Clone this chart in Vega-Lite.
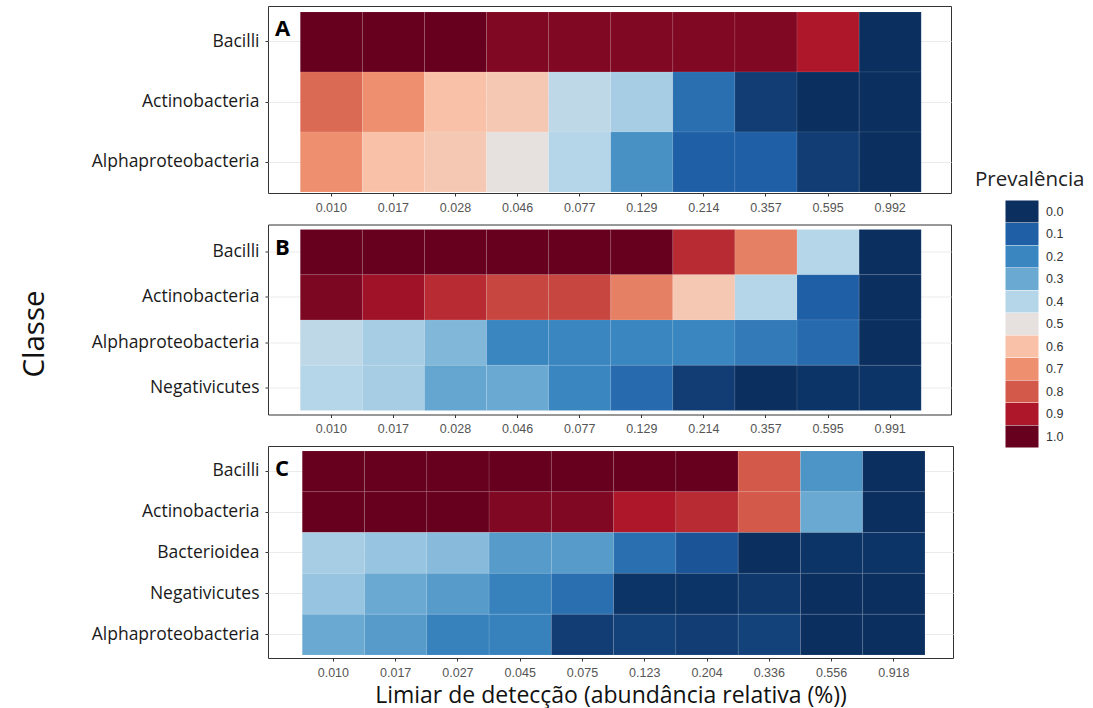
{
  "$schema": "https://vega.github.io/schema/vega-lite/v6.json",
  "background": "white",
  "padding": {"left": 18, "top": 5, "right": 5, "bottom": 5},
  "config": {
    "view": {"stroke": "#333333", "strokeWidth": 1},
    "axis": {"domain": false, "tickColor": "#333333", "tickSize": 3, "gridColor": "#ebebeb", "gridWidth": 1, "zindex": 0},
    "axisX": {"grid": false, "labelAngle": 0, "labelFont": "Liberation Sans", "labelFontSize": 12.5, "labelColor": "#555555", "labelPadding": 5},
    "axisY": {"grid": true, "labelFont": "Open Sans", "labelFontSize": 17.5, "labelColor": "#1a1a1a", "labelPadding": 6},
    "title": {"anchor": "start", "frame": "group", "font": "Open Sans", "fontSize": 22, "fontWeight": "bold", "color": "#000000", "dx": 7, "dy": 39, "offset": 0}
  },
  "datasets": {
    "A": [
      {"classe": "Bacilli", "limiar": "0.010", "prevalencia": 1.0},
      {"classe": "Bacilli", "limiar": "0.017", "prevalencia": 1.0},
      {"classe": "Bacilli", "limiar": "0.028", "prevalencia": 1.0},
      {"classe": "Bacilli", "limiar": "0.046", "prevalencia": 0.965},
      {"classe": "Bacilli", "limiar": "0.077", "prevalencia": 0.965},
      {"classe": "Bacilli", "limiar": "0.129", "prevalencia": 0.965},
      {"classe": "Bacilli", "limiar": "0.214", "prevalencia": 0.965},
      {"classe": "Bacilli", "limiar": "0.357", "prevalencia": 0.965},
      {"classe": "Bacilli", "limiar": "0.595", "prevalencia": 0.9},
      {"classe": "Bacilli", "limiar": "0.992", "prevalencia": 0.0},
      {"classe": "Actinobacteria", "limiar": "0.010", "prevalencia": 0.77},
      {"classe": "Actinobacteria", "limiar": "0.017", "prevalencia": 0.7},
      {"classe": "Actinobacteria", "limiar": "0.028", "prevalencia": 0.6},
      {"classe": "Actinobacteria", "limiar": "0.046", "prevalencia": 0.58},
      {"classe": "Actinobacteria", "limiar": "0.077", "prevalencia": 0.42},
      {"classe": "Actinobacteria", "limiar": "0.129", "prevalencia": 0.38},
      {"classe": "Actinobacteria", "limiar": "0.214", "prevalencia": 0.14},
      {"classe": "Actinobacteria", "limiar": "0.357", "prevalencia": 0.03},
      {"classe": "Actinobacteria", "limiar": "0.595", "prevalencia": 0.0},
      {"classe": "Actinobacteria", "limiar": "0.992", "prevalencia": 0.0},
      {"classe": "Alphaproteobacteria", "limiar": "0.010", "prevalencia": 0.7},
      {"classe": "Alphaproteobacteria", "limiar": "0.017", "prevalencia": 0.6},
      {"classe": "Alphaproteobacteria", "limiar": "0.028", "prevalencia": 0.58},
      {"classe": "Alphaproteobacteria", "limiar": "0.046", "prevalencia": 0.5},
      {"classe": "Alphaproteobacteria", "limiar": "0.077", "prevalencia": 0.4},
      {"classe": "Alphaproteobacteria", "limiar": "0.129", "prevalencia": 0.23},
      {"classe": "Alphaproteobacteria", "limiar": "0.214", "prevalencia": 0.1},
      {"classe": "Alphaproteobacteria", "limiar": "0.357", "prevalencia": 0.1},
      {"classe": "Alphaproteobacteria", "limiar": "0.595", "prevalencia": 0.03},
      {"classe": "Alphaproteobacteria", "limiar": "0.992", "prevalencia": 0.0}
    ],
    "B": [
      {"classe": "Bacilli", "limiar": "0.010", "prevalencia": 1.0},
      {"classe": "Bacilli", "limiar": "0.017", "prevalencia": 1.0},
      {"classe": "Bacilli", "limiar": "0.028", "prevalencia": 1.0},
      {"classe": "Bacilli", "limiar": "0.046", "prevalencia": 1.0},
      {"classe": "Bacilli", "limiar": "0.077", "prevalencia": 1.0},
      {"classe": "Bacilli", "limiar": "0.129", "prevalencia": 1.0},
      {"classe": "Bacilli", "limiar": "0.214", "prevalencia": 0.87},
      {"classe": "Bacilli", "limiar": "0.357", "prevalencia": 0.73},
      {"classe": "Bacilli", "limiar": "0.595", "prevalencia": 0.4},
      {"classe": "Bacilli", "limiar": "0.991", "prevalencia": 0.0},
      {"classe": "Actinobacteria", "limiar": "0.010", "prevalencia": 0.97},
      {"classe": "Actinobacteria", "limiar": "0.017", "prevalencia": 0.92},
      {"classe": "Actinobacteria", "limiar": "0.028", "prevalencia": 0.87},
      {"classe": "Actinobacteria", "limiar": "0.046", "prevalencia": 0.83},
      {"classe": "Actinobacteria", "limiar": "0.077", "prevalencia": 0.83},
      {"classe": "Actinobacteria", "limiar": "0.129", "prevalencia": 0.73},
      {"classe": "Actinobacteria", "limiar": "0.214", "prevalencia": 0.58},
      {"classe": "Actinobacteria", "limiar": "0.357", "prevalencia": 0.4},
      {"classe": "Actinobacteria", "limiar": "0.595", "prevalencia": 0.1},
      {"classe": "Actinobacteria", "limiar": "0.991", "prevalencia": 0.0},
      {"classe": "Alphaproteobacteria", "limiar": "0.010", "prevalencia": 0.42},
      {"classe": "Alphaproteobacteria", "limiar": "0.017", "prevalencia": 0.38},
      {"classe": "Alphaproteobacteria", "limiar": "0.028", "prevalencia": 0.33},
      {"classe": "Alphaproteobacteria", "limiar": "0.046", "prevalencia": 0.2},
      {"classe": "Alphaproteobacteria", "limiar": "0.077", "prevalencia": 0.2},
      {"classe": "Alphaproteobacteria", "limiar": "0.129", "prevalencia": 0.2},
      {"classe": "Alphaproteobacteria", "limiar": "0.214", "prevalencia": 0.2},
      {"classe": "Alphaproteobacteria", "limiar": "0.357", "prevalencia": 0.17},
      {"classe": "Alphaproteobacteria", "limiar": "0.595", "prevalencia": 0.13},
      {"classe": "Alphaproteobacteria", "limiar": "0.991", "prevalencia": 0.0},
      {"classe": "Negativicutes", "limiar": "0.010", "prevalencia": 0.4},
      {"classe": "Negativicutes", "limiar": "0.017", "prevalencia": 0.38},
      {"classe": "Negativicutes", "limiar": "0.028", "prevalencia": 0.29},
      {"classe": "Negativicutes", "limiar": "0.046", "prevalencia": 0.3},
      {"classe": "Negativicutes", "limiar": "0.077", "prevalencia": 0.2},
      {"classe": "Negativicutes", "limiar": "0.129", "prevalencia": 0.13},
      {"classe": "Negativicutes", "limiar": "0.214", "prevalencia": 0.03},
      {"classe": "Negativicutes", "limiar": "0.357", "prevalencia": 0.0},
      {"classe": "Negativicutes", "limiar": "0.595", "prevalencia": 0.01},
      {"classe": "Negativicutes", "limiar": "0.991", "prevalencia": 0.01}
    ],
    "C": [
      {"classe": "Bacilli", "limiar": "0.010", "prevalencia": 1.0},
      {"classe": "Bacilli", "limiar": "0.017", "prevalencia": 1.0},
      {"classe": "Bacilli", "limiar": "0.027", "prevalencia": 1.0},
      {"classe": "Bacilli", "limiar": "0.045", "prevalencia": 1.0},
      {"classe": "Bacilli", "limiar": "0.075", "prevalencia": 1.0},
      {"classe": "Bacilli", "limiar": "0.123", "prevalencia": 1.0},
      {"classe": "Bacilli", "limiar": "0.204", "prevalencia": 1.0},
      {"classe": "Bacilli", "limiar": "0.336", "prevalencia": 0.8},
      {"classe": "Bacilli", "limiar": "0.556", "prevalencia": 0.24},
      {"classe": "Bacilli", "limiar": "0.918", "prevalencia": 0.0},
      {"classe": "Actinobacteria", "limiar": "0.010", "prevalencia": 1.0},
      {"classe": "Actinobacteria", "limiar": "0.017", "prevalencia": 1.0},
      {"classe": "Actinobacteria", "limiar": "0.027", "prevalencia": 1.0},
      {"classe": "Actinobacteria", "limiar": "0.045", "prevalencia": 0.965},
      {"classe": "Actinobacteria", "limiar": "0.075", "prevalencia": 0.965},
      {"classe": "Actinobacteria", "limiar": "0.123", "prevalencia": 0.9},
      {"classe": "Actinobacteria", "limiar": "0.204", "prevalencia": 0.87},
      {"classe": "Actinobacteria", "limiar": "0.336", "prevalencia": 0.8},
      {"classe": "Actinobacteria", "limiar": "0.556", "prevalencia": 0.3},
      {"classe": "Actinobacteria", "limiar": "0.918", "prevalencia": 0.0},
      {"classe": "Bacterioidea", "limiar": "0.010", "prevalencia": 0.38},
      {"classe": "Bacterioidea", "limiar": "0.017", "prevalencia": 0.36},
      {"classe": "Bacterioidea", "limiar": "0.027", "prevalencia": 0.34},
      {"classe": "Bacterioidea", "limiar": "0.045", "prevalencia": 0.26},
      {"classe": "Bacterioidea", "limiar": "0.075", "prevalencia": 0.26},
      {"classe": "Bacterioidea", "limiar": "0.123", "prevalencia": 0.14},
      {"classe": "Bacterioidea", "limiar": "0.204", "prevalencia": 0.08},
      {"classe": "Bacterioidea", "limiar": "0.336", "prevalencia": 0.0},
      {"classe": "Bacterioidea", "limiar": "0.556", "prevalencia": 0.01},
      {"classe": "Bacterioidea", "limiar": "0.918", "prevalencia": 0.01},
      {"classe": "Negativicutes", "limiar": "0.010", "prevalencia": 0.36},
      {"classe": "Negativicutes", "limiar": "0.017", "prevalencia": 0.3},
      {"classe": "Negativicutes", "limiar": "0.027", "prevalencia": 0.26},
      {"classe": "Negativicutes", "limiar": "0.045", "prevalencia": 0.19},
      {"classe": "Negativicutes", "limiar": "0.075", "prevalencia": 0.14},
      {"classe": "Negativicutes", "limiar": "0.123", "prevalencia": 0.01},
      {"classe": "Negativicutes", "limiar": "0.204", "prevalencia": 0.01},
      {"classe": "Negativicutes", "limiar": "0.336", "prevalencia": 0.02},
      {"classe": "Negativicutes", "limiar": "0.556", "prevalencia": 0.0},
      {"classe": "Negativicutes", "limiar": "0.918", "prevalencia": 0.0},
      {"classe": "Alphaproteobacteria", "limiar": "0.010", "prevalencia": 0.3},
      {"classe": "Alphaproteobacteria", "limiar": "0.017", "prevalencia": 0.26},
      {"classe": "Alphaproteobacteria", "limiar": "0.027", "prevalencia": 0.19},
      {"classe": "Alphaproteobacteria", "limiar": "0.045", "prevalencia": 0.19},
      {"classe": "Alphaproteobacteria", "limiar": "0.075", "prevalencia": 0.03},
      {"classe": "Alphaproteobacteria", "limiar": "0.123", "prevalencia": 0.04},
      {"classe": "Alphaproteobacteria", "limiar": "0.204", "prevalencia": 0.03},
      {"classe": "Alphaproteobacteria", "limiar": "0.336", "prevalencia": 0.04},
      {"classe": "Alphaproteobacteria", "limiar": "0.556", "prevalencia": 0.0},
      {"classe": "Alphaproteobacteria", "limiar": "0.918", "prevalencia": 0.0}
    ]
  },
  "bounds": "flush",
  "spacing": 31.5,
  "resolve": {"scale": {"color": "shared", "x": "independent", "y": "independent"}},
  "vconcat": [
    {
      "data": {"name": "A"},
      "width": 683,
      "height": 187,
      "title": {"text": "A"},
      "mark": {"type": "rect", "stroke": "#ffffff", "strokeWidth": 0.6, "strokeOpacity": 0.15},
      "encoding": {
        "x": {"field": "limiar", "type": "ordinal", "scale": {"paddingInner": 0, "paddingOuter": 0.5, "align": 0.52}, "axis": {"title": null}},
        "y": {"field": "classe", "type": "nominal", "sort": ["Bacilli", "Actinobacteria", "Alphaproteobacteria"], "scale": {"paddingInner": 0, "paddingOuter": 0.058, "align": 0.86}, "axis": {"title": null}},
        "color": {
          "field": "prevalencia", "type": "quantitative",
          "scale": {"type": "linear", "interpolate": "rgb", "domain": [0, 0.1, 0.2, 0.3, 0.4, 0.5, 0.6, 0.7, 0.8, 0.9, 1.0], "range": ["#0b2f5f", "#1f5fa6", "#3a86c0", "#6aa9d2", "#b5d6e9", "#e6e0de", "#f9c2a8", "#ee906f", "#d35a4a", "#ae1729", "#67001f"]},
          "legend": {"title": "Prevalência", "type": "symbol", "values": [0, 0.1, 0.2, 0.3, 0.4, 0.5, 0.6, 0.7, 0.8, 0.9, 1.0], "format": ".1f", "orient": "none", "legendX": 707, "legendY": 164, "symbolType": "M-1.5,-1H1.5V1H-1.5Z", "symbolSize": 484, "symbolStrokeWidth": 0, "symbolOpacity": 1, "rowPadding": 0.5, "labelOffset": 13, "symbolOffset": 36, "titleFont": "Open Sans", "titleFontSize": 20.5, "titleFontWeight": "normal", "titleColor": "#222222", "titlePadding": 10, "labelFont": "Liberation Sans", "labelFontSize": 12.5, "labelColor": "#333333"}
        }
      }
    },
    {
      "data": {"name": "B"},
      "width": 683,
      "height": 190,
      "title": {"text": "B"},
      "mark": {"type": "rect", "stroke": "#ffffff", "strokeWidth": 0.6, "strokeOpacity": 0.15},
      "encoding": {
        "x": {"field": "limiar", "type": "ordinal", "scale": {"paddingInner": 0, "paddingOuter": 0.5, "align": 0.52}, "axis": {"title": null}},
        "y": {"field": "classe", "type": "nominal", "sort": ["Bacilli", "Actinobacteria", "Alphaproteobacteria", "Negativicutes"], "scale": {"paddingInner": 0, "paddingOuter": 0.1, "align": 0.55}, "axis": {"title": "Classe", "titleFont": "Open Sans", "titleFontSize": 29.5, "titleFontWeight": "normal", "titleColor": "#111111", "titlePadding": 42, "titleY": 109}},
        "color": {
          "field": "prevalencia", "type": "quantitative",
          "scale": {"type": "linear", "interpolate": "rgb", "domain": [0, 0.1, 0.2, 0.3, 0.4, 0.5, 0.6, 0.7, 0.8, 0.9, 1.0], "range": ["#0b2f5f", "#1f5fa6", "#3a86c0", "#6aa9d2", "#b5d6e9", "#e6e0de", "#f9c2a8", "#ee906f", "#d35a4a", "#ae1729", "#67001f"]},
          "legend": {"title": "Prevalência", "type": "symbol", "values": [0, 0.1, 0.2, 0.3, 0.4, 0.5, 0.6, 0.7, 0.8, 0.9, 1.0], "format": ".1f", "orient": "none", "legendX": 707, "legendY": 164, "symbolType": "M-1.5,-1H1.5V1H-1.5Z", "symbolSize": 484, "symbolStrokeWidth": 0, "symbolOpacity": 1, "rowPadding": 0.5, "labelOffset": 13, "symbolOffset": 36, "titleFont": "Open Sans", "titleFontSize": 20.5, "titleFontWeight": "normal", "titleColor": "#222222", "titlePadding": 10, "labelFont": "Liberation Sans", "labelFontSize": 12.5, "labelColor": "#333333"}
        }
      }
    },
    {
      "data": {"name": "C"},
      "width": 685,
      "height": 212,
      "title": {"text": "C"},
      "mark": {"type": "rect", "stroke": "#ffffff", "strokeWidth": 0.6, "strokeOpacity": 0.15},
      "encoding": {
        "x": {"field": "limiar", "type": "ordinal", "scale": {"paddingInner": 0, "paddingOuter": 0.5, "align": 0.55}, "axis": {"title": "Limiar de detecção (abundância relativa (%))", "titleFont": "Open Sans", "titleFontSize": 23, "titleFontWeight": "normal", "titleColor": "#111111", "titlePadding": 6}},
        "y": {"field": "classe", "type": "nominal", "sort": ["Bacilli", "Actinobacteria", "Bacterioidea", "Negativicutes", "Alphaproteobacteria"], "scale": {"paddingInner": 0, "paddingOuter": 0.098, "align": 0.62}, "axis": {"title": null}},
        "color": {
          "field": "prevalencia", "type": "quantitative",
          "scale": {"type": "linear", "interpolate": "rgb", "domain": [0, 0.1, 0.2, 0.3, 0.4, 0.5, 0.6, 0.7, 0.8, 0.9, 1.0], "range": ["#0b2f5f", "#1f5fa6", "#3a86c0", "#6aa9d2", "#b5d6e9", "#e6e0de", "#f9c2a8", "#ee906f", "#d35a4a", "#ae1729", "#67001f"]},
          "legend": {"title": "Prevalência", "type": "symbol", "values": [0, 0.1, 0.2, 0.3, 0.4, 0.5, 0.6, 0.7, 0.8, 0.9, 1.0], "format": ".1f", "orient": "none", "legendX": 707, "legendY": 164, "symbolType": "M-1.5,-1H1.5V1H-1.5Z", "symbolSize": 484, "symbolStrokeWidth": 0, "symbolOpacity": 1, "rowPadding": 0.5, "labelOffset": 13, "symbolOffset": 36, "titleFont": "Open Sans", "titleFontSize": 20.5, "titleFontWeight": "normal", "titleColor": "#222222", "titlePadding": 10, "labelFont": "Liberation Sans", "labelFontSize": 12.5, "labelColor": "#333333"}
        }
      }
    }
  ]
}
